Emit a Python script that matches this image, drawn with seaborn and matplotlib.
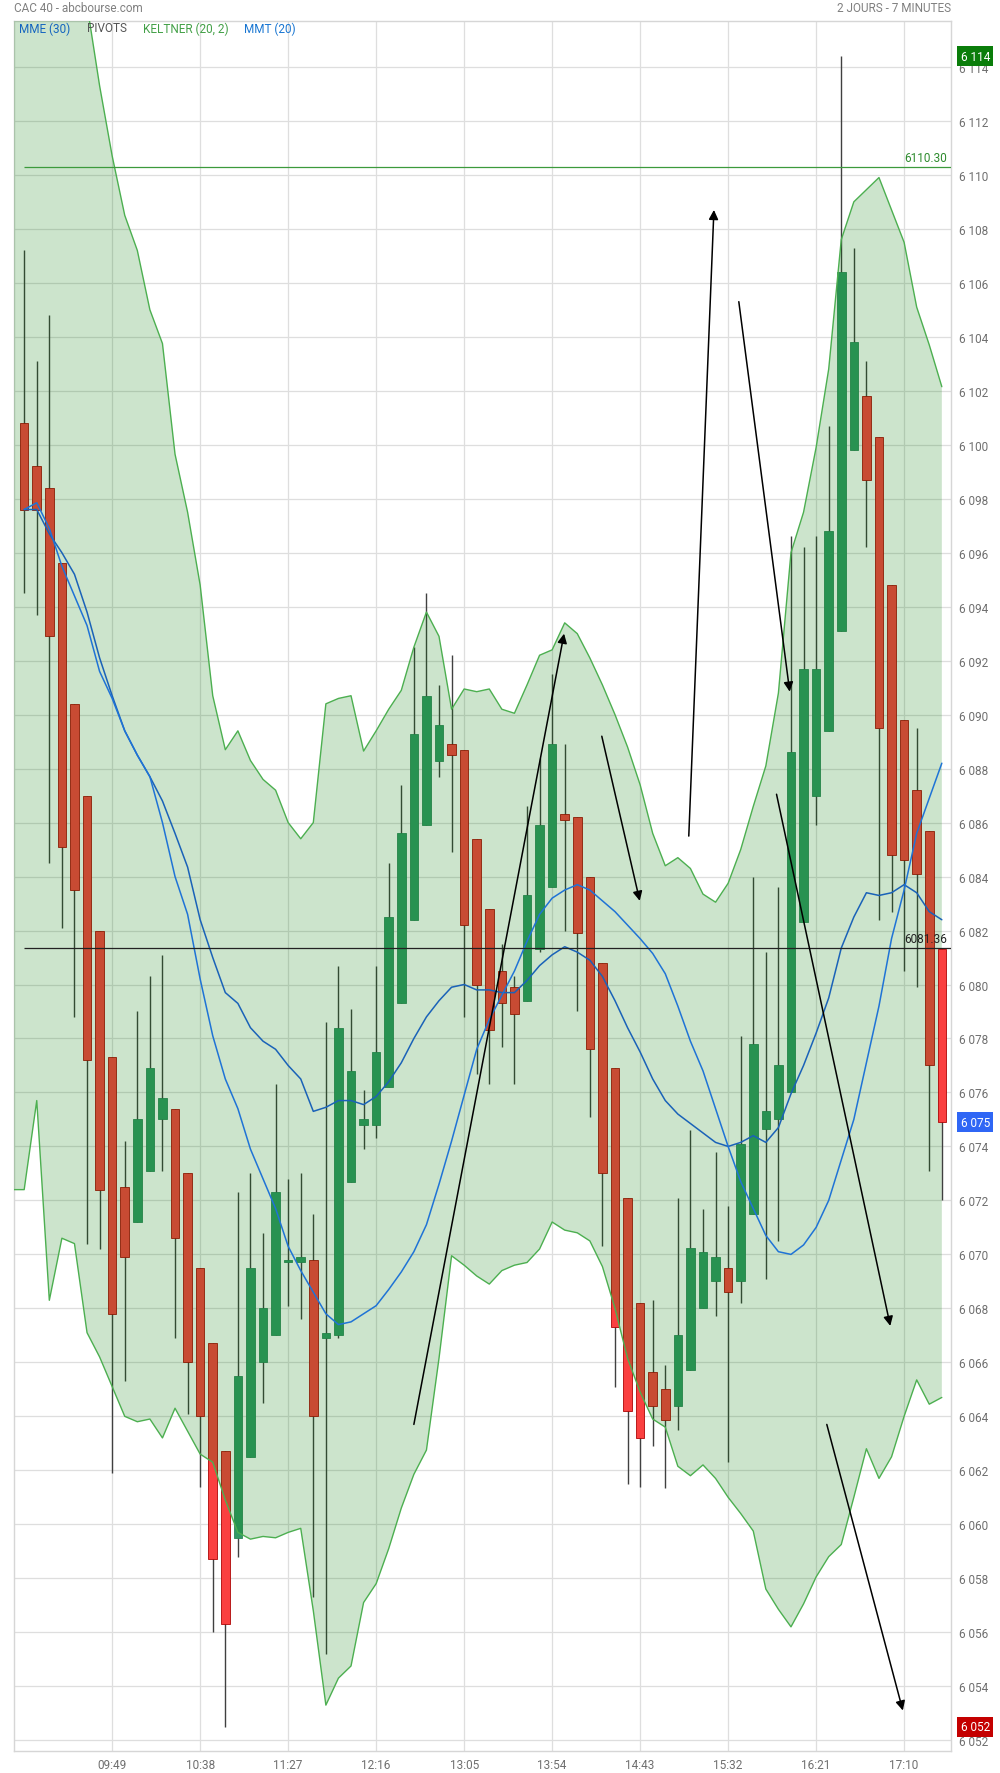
"""CAC 40 intraday candles, 7-minute bars, with Keltner band, moving averages and pivots."""
import matplotlib
matplotlib.use("Agg")
import matplotlib.pyplot as plt
import numpy as np
import pandas as pd
import seaborn as sns

sns.set_theme(style="white")
plt.rcParams["font.family"] = ["Roboto", "DejaVu Sans"]

# --- data --------------------------------------------------------------------
opens = [6100.8, 6099.2, 6098.4, 6095.6, 6090.4, 6087.0, 6082.0, 6077.3, 6072.5, 6071.2,
         6073.1, 6075.0, 6075.4, 6073.0, 6069.5, 6066.7, 6062.7, 6059.5, 6062.5, 6066.0,
         6067.0, 6069.7, 6069.7, 6069.8, 6066.9, 6067.0, 6072.7, 6074.8, 6074.8, 6076.2,
         6079.3, 6082.4, 6085.9, 6088.3, 6088.9, 6088.7, 6085.4, 6082.8, 6080.5, 6079.9,
         6079.4, 6081.3, 6083.6, 6086.3, 6086.2, 6084.0, 6080.8, 6076.9, 6072.1, 6068.2,
         6065.65, 6065.0, 6064.4, 6065.7, 6068.0, 6069.0, 6069.5, 6069.0, 6071.5, 6074.65,
         6075.0, 6076.0, 6082.3, 6087.0, 6089.4, 6093.1, 6099.8, 6101.8, 6100.3, 6094.8,
         6089.8, 6087.2, 6085.7, 6081.3]
highs = [6107.2, 6103.1, 6104.8, 6095.6, 6090.4, 6087.0, 6082.0, 6077.3, 6074.2, 6079.0,
         6080.3, 6081.1, 6075.4, 6073.0, 6069.5, 6066.7, 6062.7, 6072.3, 6073.0, 6070.8,
         6076.3, 6072.8, 6073.0, 6071.5, 6078.6, 6080.7, 6079.1, 6076.1, 6080.7, 6084.5,
         6087.4, 6092.5, 6094.5, 6091.1, 6092.2, 6088.7, 6085.4, 6082.8, 6081.5, 6080.3,
         6086.6, 6088.4, 6091.5, 6088.9, 6086.2, 6084.0, 6080.8, 6076.9, 6072.1, 6068.2,
         6068.3, 6065.9, 6072.1, 6074.6, 6071.7, 6073.8, 6071.8, 6078.1, 6084.0, 6081.2,
         6083.6, 6096.6, 6096.2, 6096.6, 6100.7, 6114.4, 6107.3, 6103.1, 6100.3, 6094.8,
         6089.8, 6089.5, 6085.7, 6081.3]
lows = [6094.5, 6093.7, 6084.5, 6082.1, 6078.8, 6070.4, 6070.2, 6061.9, 6065.3, 6071.2,
        6073.1, 6073.1, 6066.9, 6064.1, 6061.4, 6056.0, 6052.5, 6058.8, 6062.5, 6064.5,
        6067.0, 6068.1, 6067.6, 6057.3, 6055.2, 6066.9, 6072.7, 6073.9, 6074.3, 6076.2,
        6079.3, 6082.4, 6085.9, 6087.7, 6084.9, 6078.8, 6076.7, 6076.3, 6077.7, 6076.3,
        6079.4, 6081.2, 6083.6, 6082.0, 6079.0, 6075.1, 6070.3, 6065.1, 6061.5, 6061.4,
        6062.9, 6061.35, 6063.5, 6065.7, 6068.0, 6067.7, 6062.3, 6068.2, 6071.5, 6069.1,
        6070.5, 6076.0, 6082.3, 6085.9, 6089.4, 6093.1, 6099.8, 6096.2, 6082.4, 6082.7,
        6080.5, 6079.9, 6073.1, 6072.0]
closes = [6097.6, 6097.6, 6092.9, 6085.1, 6083.5, 6077.2, 6072.4, 6067.8, 6069.9, 6075.0,
          6076.9, 6075.8, 6070.6, 6066.0, 6064.0, 6058.7, 6056.3, 6065.5, 6069.5, 6068.0,
          6072.3, 6069.7, 6069.9, 6064.0, 6067.1, 6078.4, 6076.8, 6075.0, 6077.5, 6082.5,
          6085.6, 6089.3, 6090.7, 6089.6, 6088.5, 6082.2, 6080.0, 6078.3, 6079.3, 6078.9,
          6083.3, 6085.9, 6088.9, 6086.1, 6081.9, 6077.6, 6073.0, 6067.3, 6064.2, 6063.2,
          6064.4, 6063.85, 6067.0, 6070.25, 6070.1, 6069.9, 6068.6, 6074.1, 6077.8, 6075.3,
          6077.0, 6088.6, 6091.7, 6091.7, 6096.8, 6106.4, 6103.8, 6098.7, 6089.5, 6084.8,
          6084.6, 6084.1, 6077.0, 6074.9]

keltner_up = [6121.0, 6120.0, 6119.0, 6118.0, 6117.2, 6116.3, 6113.3, 6110.7, 6108.5, 6107.2,
              6105.0, 6103.75, 6099.65, 6097.5, 6094.8, 6090.7, 6088.7, 6089.4, 6088.3, 6087.6,
              6087.2, 6086.0, 6085.4, 6086.0, 6090.4, 6090.6, 6090.7, 6088.65, 6089.4, 6090.2,
              6090.9, 6092.5, 6093.8, 6092.9, 6090.2, 6090.95, 6090.85, 6090.95, 6090.2, 6090.05,
              6091.1, 6092.2, 6092.4, 6093.4, 6093.0, 6092.1, 6091.1, 6090.0, 6088.8, 6087.4,
              6085.6, 6084.4, 6084.7, 6084.3, 6083.35, 6083.05, 6083.75, 6085.0, 6086.6, 6088.1,
              6090.8, 6096.0, 6097.5, 6099.9, 6102.8, 6107.6, 6109.0, 6109.45, 6109.9, 6108.7,
              6107.5, 6105.1, 6103.7, 6102.15]
keltner_low = [6072.4, 6075.7, 6068.3, 6070.6, 6070.4, 6067.1, 6066.2, 6065.1, 6064.0, 6063.8,
               6063.9, 6063.2, 6064.3, 6063.45, 6062.6, 6062.3, 6060.9, 6059.7, 6059.45, 6059.55,
               6059.5, 6059.7, 6059.85, 6056.8, 6053.3, 6054.3, 6054.75, 6057.1, 6057.8, 6059.1,
               6060.6, 6061.85, 6062.75, 6066.15, 6069.95, 6069.6, 6069.2, 6068.9, 6069.4, 6069.6,
               6069.7, 6070.2, 6071.2, 6070.9, 6070.8, 6070.5, 6069.55, 6068.0, 6066.15, 6064.9,
               6063.9, 6063.6, 6062.15, 6061.8, 6062.2, 6061.7, 6061.0, 6060.4, 6059.75, 6057.6,
               6056.85, 6056.2, 6057.05, 6058.05, 6058.8, 6059.25, 6061.0, 6062.8, 6061.7, 6062.5,
               6064.0, 6065.35, 6064.45, 6064.7]

mmt_20 = [6097.6, 6097.85, 6096.9, 6095.5, 6094.4, 6093.3, 6091.6, 6090.6, 6089.4, 6088.5,
          6087.7, 6086.0, 6084.0, 6082.6, 6080.2, 6078.1, 6076.5, 6075.4, 6073.9, 6072.8,
          6071.7, 6070.3, 6069.4, 6068.6, 6067.8, 6067.4, 6067.5, 6067.8, 6068.1, 6068.7,
          6069.35, 6070.1, 6071.1, 6072.6, 6074.2, 6075.9, 6077.6, 6078.7, 6079.6, 6080.5,
          6081.6, 6082.6, 6083.2, 6083.5, 6083.7, 6083.5, 6083.1, 6082.7, 6082.2, 6081.7,
          6081.15, 6080.4, 6079.2, 6077.9, 6076.8, 6075.4, 6074.0, 6072.7, 6071.7, 6070.7,
          6070.1, 6070.0, 6070.35, 6071.0, 6072.0, 6073.5, 6075.0, 6077.1, 6079.2, 6081.7,
          6083.5, 6085.6, 6086.9, 6088.2]
mme_30 = [6097.6, 6097.6, 6096.7, 6096.0, 6095.2, 6093.8, 6092.1, 6090.7, 6089.4, 6088.5,
          6087.7, 6086.8, 6085.6, 6084.35, 6082.4, 6081.0, 6079.7, 6079.3, 6078.4, 6077.9,
          6077.6, 6077.0, 6076.5, 6075.3, 6075.45, 6075.7, 6075.7, 6075.55, 6075.85, 6076.4,
          6077.1, 6078.0, 6078.8, 6079.4, 6079.9, 6080.0, 6079.8, 6079.8, 6079.7, 6079.7,
          6080.15, 6080.7, 6081.1, 6081.4, 6081.2, 6080.9, 6080.3, 6079.4, 6078.4, 6077.5,
          6076.5, 6075.7, 6075.2, 6074.85, 6074.5, 6074.15, 6074.0, 6074.15, 6074.4, 6074.15,
          6074.7, 6075.95, 6077.0, 6078.2, 6079.5, 6081.35, 6082.5, 6083.4, 6083.3, 6083.4,
          6083.7, 6083.4, 6082.7, 6082.4]

pivot_high = 6110.30
pivot_mid = 6081.36

tick_pos = [7, 14, 21, 28, 35, 42, 49, 56, 63, 70]
tick_labels = ["09:49", "10:38", "11:27", "12:16", "13:05", "13:54", "14:43", "15:32", "16:21", "17:10"]

# hand-drawn trend arrows: (start bar, start price, end bar, end price)
arrows = [
    (31.0, 6063.7, 42.95, 6093.0),
    (45.95, 6089.2, 48.97, 6083.1),
    (52.87, 6085.5, 54.87, 6108.7),
    (56.85, 6105.3, 60.9, 6090.85),
    (59.85, 6087.05, 68.9, 6067.35),
    (63.85, 6063.7, 69.9, 6053.1),
]

# --- styling -----------------------------------------------------------------
UP = "#339966"
DOWN = "#fa4040"
WICK = "#404040"
GRID = "#dedede"
GREY = "#6f6f6f"
BAND_LINE = "#4caf50"

df = pd.DataFrame({"open": opens, "high": highs, "low": lows, "close": closes})
df["bar"] = np.arange(len(df))
df["up"] = df["close"] >= df["open"]

W, H = 1000, 1774
fig = plt.figure(figsize=(W / 100, H / 100), dpi=100)
left, right, top, bottom = 14, 951, 22, 1752
ax = fig.add_axes([left / W, 1 - bottom / H, (right - left) / W, (bottom - top) / H])

x_min, x_max = -0.81, 73.73
y_min, y_max = 6051.6, 6115.7
ax.set_xlim(x_min, x_max)
ax.set_ylim(y_min, y_max)

# grid
ax.set_yticks(np.arange(6052, 6115, 2))
ax.set_xticks(tick_pos)
ax.set_xticklabels(tick_labels)
ax.yaxis.set_major_formatter(plt.FuncFormatter(lambda v, _: f"{int(round(v)):,}".replace(",", " ")))
ax.grid(True, color=GRID, lw=0.9)
ax.set_axisbelow(True)
ax.yaxis.tick_right()
ax.tick_params(axis="y", length=0, pad=6, labelsize=8.5, labelcolor=GREY)
ax.tick_params(axis="x", length=0, pad=5, labelsize=8.5, labelcolor=GREY)
for s in ax.spines.values():
    s.set_color("#d6d6d6")
    s.set_linewidth(1)

# candles
body_w = 0.68
last = len(df) - 1
for _, r in df.iterrows():
    z = 8 if r["bar"] == last else 2
    ax.vlines(r["bar"], r["low"], r["high"], color=WICK, lw=1, zorder=z)
    lo = min(r["open"], r["close"])
    h = max(abs(r["close"] - r["open"]), 0.08)
    col = UP if r["up"] else DOWN
    ax.bar(r["bar"], h, bottom=lo, width=body_w, color=col,
           edgecolor=sns.set_hls_values(col, l=0.35), lw=0.6, zorder=z + 1)

# Keltner band (drawn over the candles, as on the site)
xb = np.r_[x_min, df["bar"].values]
up_b = np.r_[keltner_up[0], keltner_up]
lo_b = np.r_[keltner_low[0], keltner_low]
ax.fill_between(xb, lo_b, up_b, color="#007900", alpha=0.2, lw=0, zorder=4)
sns.lineplot(x=xb, y=up_b, ax=ax, color=BAND_LINE, lw=1, zorder=5)
sns.lineplot(x=xb, y=lo_b, ax=ax, color=BAND_LINE, lw=1, zorder=5)

# moving averages
sns.lineplot(x=df["bar"], y=mme_30, ax=ax, color="#1a62b8", lw=1.1, zorder=6)
sns.lineplot(x=df["bar"], y=mmt_20, ax=ax, color="#1f73d6", lw=1.1, zorder=6)

# pivots
ax.hlines(pivot_high, 0, x_max, color="#3c9a3c", lw=0.9, zorder=6)
ax.hlines(pivot_mid, 0, x_max, color="#222222", lw=0.9, zorder=6)
ax.text(x_max - 0.3, pivot_high + 0.12, f"{pivot_high:.2f}", color="#2e8b2e",
        ha="right", va="bottom", fontsize=8.5, zorder=7)
ax.text(x_max - 0.3, pivot_mid + 0.12, f"{pivot_mid:.2f}", color="#222222",
        ha="right", va="bottom", fontsize=8.5, zorder=7)

# arrows
for x0, y0, x1, y1 in arrows:
    ax.annotate("", xy=(x1, y1), xytext=(x0, y0),
                arrowprops=dict(arrowstyle="-|>", color="black", lw=1.1,
                                mutation_scale=14, shrinkA=0, shrinkB=0),
                zorder=9)

ax.set_xlabel("")
ax.set_ylabel("")

# price flags on the right axis
flags = [(max(highs), "#0a7d0a"), (closes[-1], "#2f66f5"), (min(lows), "#c40000")]
for price, colour in flags:
    ax.annotate(f"{int(round(price)):,}".replace(",", " "), xy=(1.0, price),
                xycoords=("axes fraction", "data"), xytext=(7, 0), textcoords="offset points",
                ha="left", va="center", fontsize=8.5, color="white", zorder=10,
                annotation_clip=False,
                bbox=dict(boxstyle="square,pad=0.28", fc=colour, ec="none"))

# header and legend
fig.text(left / W, 1 - 9 / H, "CAC 40 - abcbourse.com", color="#808080", fontsize=8.5,
         ha="left", va="center")
fig.text(right / W, 1 - 9 / H, "2 JOURS - 7 MINUTES", color="#808080", fontsize=8.5,
         ha="right", va="center")
legend_items = [("MME (30)", "#1565c0", 19), ("PIVOTS", "#555555", 87),
                ("KELTNER (20, 2)", "#43a047", 143), ("MMT (20)", "#1976d2", 244)]
for label, colour, px in legend_items:
    fig.text(px / W, 1 - 29 / H, label, color=colour, fontsize=8.5, ha="left", va="center")

fig.savefig("out.png", dpi=100)
